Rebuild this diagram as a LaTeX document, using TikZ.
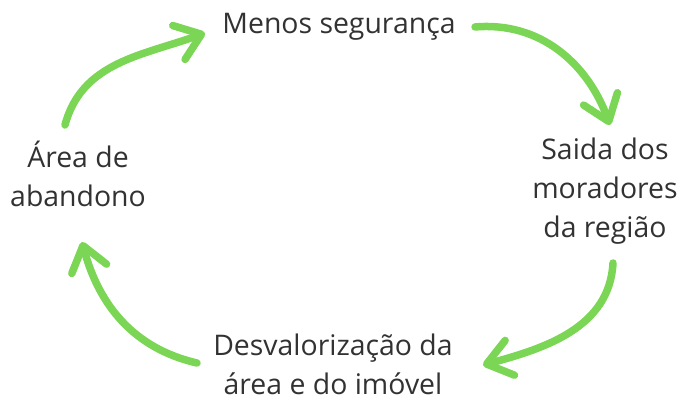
\documentclass[tikz,border=0pt]{standalone}
\usepackage{fontspec}
\setmainfont{Open Sans}
\usepackage{tikz}
\usetikzlibrary{arrows.meta}
\definecolor{cyclegreen}{RGB}{122,214,84}
\definecolor{cycletext}{RGB}{50,50,50}
\tikzset{
    %Define standard arrow tip
    >={Straight Barb[length=24pt,width=36pt,round]},
    %Define style for the labels
    cyclenode/.style={
             anchor=base,
             align=center,
             inner sep=0pt,
             text=cycletext,
             font=\fontsize{28.4}{39}\selectfont},
    % Define arrow style
    cyclearrow/.style={
            ->,
            draw=cyclegreen,
            line width=7.5pt,
            line cap=round}
}
\begin{document}
\begin{tikzpicture}[x=1pt, y=1pt]
 \useasboundingbox (0,0) rectangle (681,401);
 \node[cyclenode] (menos) at (339,367) {Menos segurança};
 \node[cyclenode] (saida) at (605,163) {Saida dos\\moradores\\da região};
 \node[cyclenode] (desval) at (333,6) {Desvalorização da\\área e do imóvel};
 \node[cyclenode] (area) at (78,194) {Área de\\abandono};
 \path ([shift={(-13,82)}]area.base) edge[cyclearrow, out=75, in=200] ([shift={(-134,1)}]menos.base)
       ([shift={(136,7)}]menos.base) edge[cyclearrow, out=5, in=110] ([shift={(5,113)}]saida.base)
       ([shift={(8,-25)}]saida.base) edge[cyclearrow, out=-93, in=15] ([shift={(150,30)}]desval.base)
       ([shift={(-136,32)}]desval.base) edge[cyclearrow, out=167, in=285] ([shift={(4,-35)}]area.base);
\end{tikzpicture}
\end{document}
